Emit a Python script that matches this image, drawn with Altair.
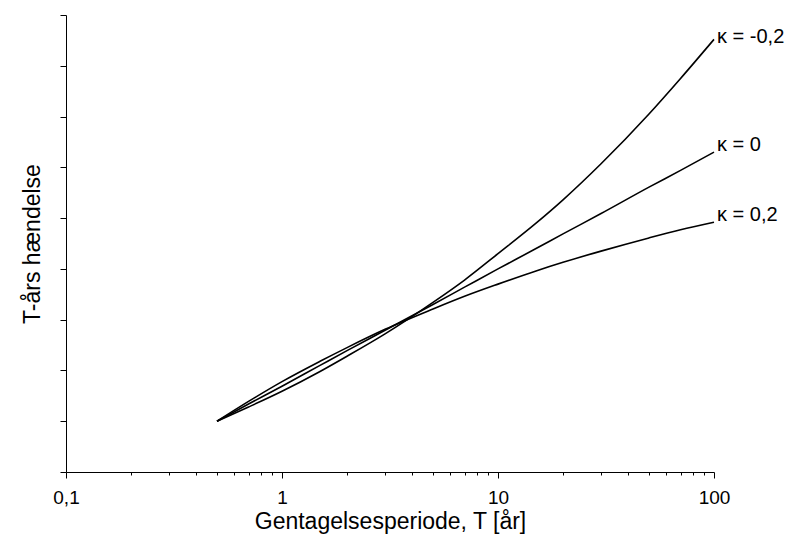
import altair as alt
import pandas as pd

# Return period T [years]
T = [0.5, 0.7, 1, 1.5, 2, 3, 5, 7, 10, 15, 20, 30, 50, 70, 100]
# T-year event (arbitrary units)
kappa_neg02 = [1.00, 1.28, 1.59, 1.98, 2.28, 2.72, 3.34, 3.78, 4.30, 4.90, 5.36, 6.07, 7.05, 7.75, 8.52]
kappa_0 = [1.00, 1.34, 1.69, 2.10, 2.39, 2.79, 3.30, 3.64, 4.00, 4.40, 4.69, 5.09, 5.61, 5.94, 6.30]
kappa_02 = [1.00, 1.39, 1.78, 2.18, 2.45, 2.81, 3.21, 3.46, 3.70, 3.96, 4.13, 4.35, 4.61, 4.77, 4.92]

series_names = ["κ = -0,2", "κ = 0", "κ = 0,2"]
label_T = [100, 100, 100]
label_y = [8.52, 6.40, 5.02]

x_tick_values = [0.1, 0.2, 0.3, 0.4, 0.5, 0.6, 0.7, 0.8, 0.9,
                 1, 2, 3, 4, 5, 6, 7, 8, 9,
                 10, 20, 30, 40, 50, 60, 70, 80, 90, 100]
y_tick_values = [0, 0.5, 1, 1.5, 2, 2.5, 3, 3.5, 4, 4.5, 5, 5.5, 6, 6.5, 7, 7.5, 8, 8.5, 9]

rows = []
for name, vals in zip(series_names, [kappa_neg02, kappa_0, kappa_02]):
    for t, v in zip(T, vals):
        rows.append({"T": t, "v": v, "kappa": name})
df = pd.DataFrame(rows)
labels_df = pd.DataFrame({"T": label_T, "v": label_y, "label": series_names})

FONT = "Liberation Sans"

x_scale = alt.Scale(type="log", domain=[0.1, 100])
y_scale = alt.Scale(domain=[0, 9], nice=False, zero=False)

x_axis = alt.Axis(
    values=x_tick_values,
    labelExpr="datum.value == 0.1 ? '0,1' : (datum.value == 1 || datum.value == 10 || datum.value == 100) ? format(datum.value, 'd') : ''",
    tickSize={"condition": {"test": "datum.value == 0.1 || datum.value == 1 || datum.value == 10 || datum.value == 100", "value": 6}, "value": 3},
    grid=False,
    labelOverlap=False,
    labelFlush=False,
    labelFontSize=19,
    labelPadding=10,
    title="Gentagelsesperiode, T [år]",
    titleFontSize=23,
    titleFontWeight="normal",
    titlePadding=3,
)
y_axis = alt.Axis(
    values=y_tick_values,
    labels=False,
    tickSize={"condition": {"test": "datum.value % 1 === 0", "value": 6}, "value": 3},
    grid=False,
    title="T-års hændelse",
    titleFontSize=23,
    titleFontWeight="normal",
    titlePadding=15,
)

lines = alt.Chart(df).mark_line(color="black", strokeWidth=1.6, interpolate="monotone").encode(
    x=alt.X("T:Q", scale=x_scale, axis=x_axis),
    y=alt.Y("v:Q", scale=y_scale, axis=y_axis),
    detail="kappa:N",
)

texts = alt.Chart(labels_df).mark_text(
    align="left", baseline="middle", dx=3, dy=-2, fontSize=20, font=FONT, color="black"
).encode(
    x=alt.X("T:Q", scale=x_scale),
    y=alt.Y("v:Q", scale=y_scale),
    text="label:N",
)

chart = alt.layer(lines, texts).properties(
    width=648,
    height=457,
    autosize=alt.AutoSizeParams(type="none"),
    padding={"left": 66, "top": 15, "right": 78, "bottom": 71},
    background="white",
).configure_view(stroke=None).configure_axis(
    domainColor="black",
    tickColor="black",
    labelColor="black",
    titleColor="black",
    labelFont=FONT,
    titleFont=FONT,
    domainWidth=1,
    tickWidth=1,
)

chart.save("out.html", embed_options={"renderer": "svg", "actions": False})
